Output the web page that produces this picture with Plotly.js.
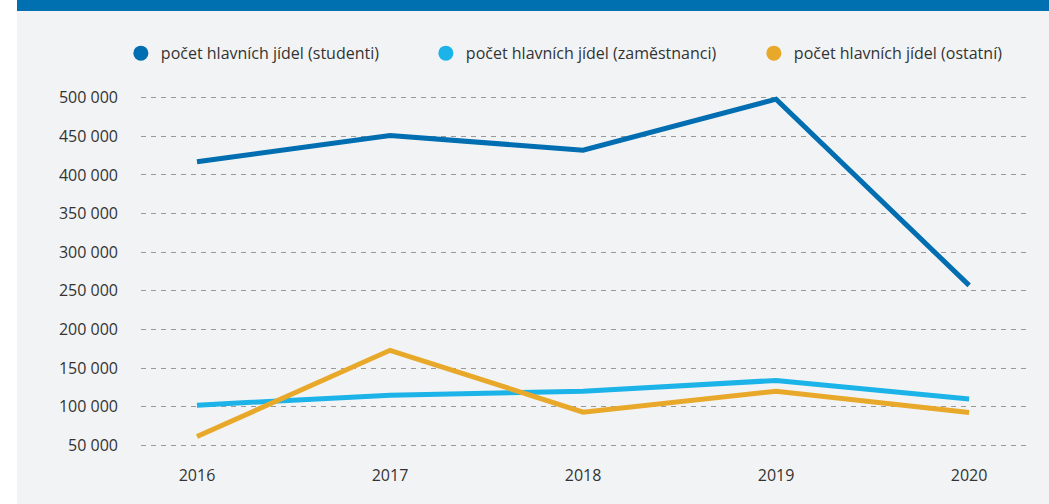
<!DOCTYPE html>
<html>
<head>
<meta charset="utf-8">
<script src="https://cdn.plot.ly/plotly-3.0.1.min.js"></script>
<style>
  html, body { margin: 0; padding: 0; background: #ffffff; width: 1049px; height: 504px; overflow: hidden; }
  #frame { position: absolute; left: 17px; top: 0; width: 1032px; height: 504px; background: #F2F3F5; }
  #band { position: absolute; left: 0; top: 0; width: 1032px; height: 11px; background: #0070B0; }
  #chart { position: absolute; left: 0; top: 11px; width: 1032px; height: 493px; }
</style>
</head>
<body>
<div id="frame">
  <div id="band"></div>
  <div id="chart"></div>
</div>
<script>
const years = [2016, 2017, 2018, 2019, 2020];
const seriesNames = [
  "počet hlavních jídel (studenti)",
  "počet hlavních jídel (zaměstnanci)",
  "počet hlavních jídel (ostatní)"
];
const students = [417000, 451000, 432000, 498000, 257000];
const staff = [102000, 115000, 120000, 134000, 110000];
const others = [61500, 173000, 93000, 120000, 92500];
const yTickVals = [50000, 100000, 150000, 200000, 250000, 300000, 350000, 400000, 450000, 500000];
const yTickText = ["50 000", "100 000", "150 000", "200 000", "250 000", "300 000", "350 000", "400 000", "450 000", "500 000"];

const colors = ["#006EB0", "#1CB3E8", "#E8A92B"];
const values = [students, staff, others];
const legendWidths = [260, 283, 250];

const traces = [];
values.forEach((v, i) => {
  traces.push({
    x: years, y: v, type: "scatter", mode: "lines",
    line: { color: colors[i], width: 5 },
    showlegend: false, hoverinfo: "skip", cliponaxis: false
  });
});
values.forEach((v, i) => {
  traces.push({
    x: [null], y: [null], type: "scatter", mode: "markers",
    name: seriesNames[i],
    marker: { color: colors[i], size: 15 },
    legendwidth: legendWidths[i]
  });
});

const layout = {
  width: 1032, height: 493,
  paper_bgcolor: "#F2F3F5", plot_bgcolor: "#F2F3F5",
  margin: { l: 124, r: 21, t: 82, b: 54, pad: 0 },
  font: { family: "Open Sans, sans-serif", color: "#333333", size: 16 },
  showlegend: true,
  legend: {
    orientation: "h", x: -0.0227, xanchor: "left", y: 1.159, yanchor: "top",
    font: { size: 16, color: "#333333" }, bgcolor: "rgba(0,0,0,0)", traceorder: "normal"
  },
  xaxis: {
    type: "linear", range: [2015.71, 2020.305],
    tickvals: years, ticktext: years.map(String),
    showgrid: false, zeroline: false, showline: false, ticks: "",
    tickfont: { size: 16, color: "#333333" }, ticklabelstandoff: 14
  },
  yaxis: {
    range: [44000, 506000],
    tickvals: yTickVals, ticktext: yTickText,
    showgrid: true, gridcolor: "#999999", gridwidth: 1, griddash: "5px,5px",
    zeroline: false, showline: false, ticks: "",
    tickfont: { size: 16, color: "#333333" }, ticklabelstandoff: 22
  }
};

Plotly.newPlot("chart", traces, layout, { staticPlot: true, displayModeBar: false });
</script>
</body>
</html>
